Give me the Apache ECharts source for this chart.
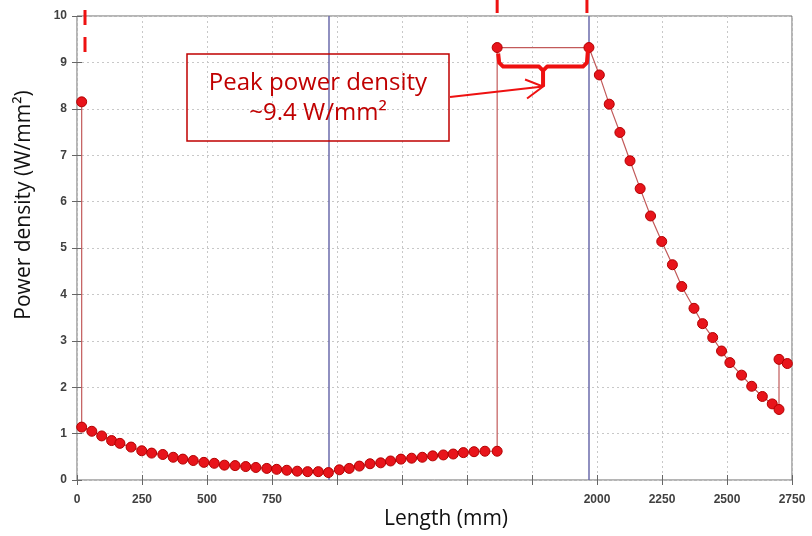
<!DOCTYPE html>
<html>
<head>
<meta charset="utf-8">
<script src="https://cdn.jsdelivr.net/npm/echarts@6/dist/echarts.min.js"></script>
<style>
  html, body { margin: 0; padding: 0; background: #fff; }
  #chart { width: 812px; height: 536px; }
</style>
</head>
<body>
<div id="chart"></div>
<script>
// values
const lengthMm = [18, 18, 57, 95, 133, 165, 208, 249, 287, 330, 370, 407, 447, 488, 528, 567, 608, 649, 688, 730,
  768, 807, 847, 887, 928, 967, 1009, 1047, 1086, 1127, 1168, 1206, 1246, 1287, 1328, 1368, 1409, 1447, 1486, 1527,
  1569, 1616, 1616, 1969, 2009, 2047, 2088, 2127, 2166, 2206, 2249, 2290, 2326, 2373, 2406, 2445, 2479, 2511, 2556, 2595,
  2636, 2674, 2700, 2700, 2732];
const powerDensity = [8.15, 1.14, 1.05, 0.95, 0.85, 0.79, 0.71, 0.63, 0.58, 0.55, 0.49, 0.45, 0.42, 0.38, 0.36, 0.32, 0.31, 0.29, 0.27, 0.25,
  0.23, 0.21, 0.19, 0.18, 0.18, 0.16, 0.22, 0.25, 0.30, 0.35, 0.37, 0.41, 0.45, 0.47, 0.49, 0.52, 0.54, 0.56, 0.59, 0.61,
  0.62, 0.62, 9.32, 9.32, 8.73, 8.10, 7.49, 6.88, 6.28, 5.69, 5.14, 4.64, 4.17, 3.70, 3.37, 3.07, 2.78, 2.53, 2.26, 2.02,
  1.80, 1.64, 1.52, 2.60, 2.51];
const guideLines = [969, 1969];
const xTickLabels = ["0", "250", "500", "750", "", "", "", "", "2000", "2250", "2500", "2750"];
const yTickLabels = ["0", "1", "2", "3", "4", "5", "6", "7", "8", "9", "10"];
const peakStart = 1616;
const peakEnd = 1969;
const peakValue = 9.32;

const chart = echarts.init(document.getElementById("chart"), null, { renderer: "canvas" });

const tickStyle = { show: true, inside: true, length: 5, lineStyle: { color: "#666" } };
const gridLine = { show: true, lineStyle: { color: "#c8c8c8", type: [2, 3], width: 1 } };
const labelStyle = { color: "#404040", fontFamily: "Liberation Sans", fontWeight: "bold", fontSize: 12 };

chart.setOption({
  animation: false,
  backgroundColor: "#fff",
  grid: { left: 77, right: 20, top: 16, bottom: 56, show: true, borderColor: "#6b6b6b", borderWidth: 1 },
  xAxis: [
    {
      type: "value", min: 0, max: 2750, interval: 250,
      axisLine: { show: false }, axisTick: tickStyle, splitLine: gridLine,
      axisLabel: { ...labelStyle, margin: 14, formatter: (v) => xTickLabels[Math.round(v / 250)] || "" },
    },
    {
      type: "value", position: "top", min: 0, max: 2750, interval: 250,
      axisLine: { show: false }, axisTick: tickStyle, splitLine: { show: false }, axisLabel: { show: false },
    },
  ],
  yAxis: [
    {
      type: "value", min: 0, max: 10, interval: 1,
      axisLine: { show: false }, axisTick: tickStyle, splitLine: gridLine,
      axisLabel: { ...labelStyle, margin: 10, formatter: (v) => yTickLabels[Math.round(v)] },
    },
    {
      type: "value", position: "right", min: 0, max: 10, interval: 1,
      axisLine: { show: false }, axisTick: tickStyle, splitLine: { show: false }, axisLabel: { show: false },
    },
  ],
  series: [
    {
      type: "line",
      data: lengthMm.map((x, i) => [x, powerDensity[i]]),
      symbol: "circle",
      symbolSize: 10,
      z: 5,
      itemStyle: { color: "#e8141b", borderColor: "#b30000", borderWidth: 1 },
      lineStyle: { color: "#c25a5a", width: 1.2 },
      markLine: {
        silent: true,
        symbol: "none",
        label: { show: false },
        lineStyle: { color: "#6b6bab", width: 1.5, type: "solid" },
        data: guideLines.map((x) => ({ xAxis: x })),
        z: 3,
      },
    },
  ],
});

// annotation overlay, anchored to the peak plateau
const [pxL, pxTop] = chart.convertToPixel({ gridIndex: 0 }, [peakStart, peakValue]);
const [pxR] = chart.convertToPixel({ gridIndex: 0 }, [peakEnd, peakValue]);
const braceY = pxTop + 19;
const midX = (pxL + pxR) / 2;
const tipY = braceY + 20;
const red = "#ee1111";
const dark = "#c00000";

chart.setOption({
  graphic: [
    {
      type: "text", z: 10, x: 24, y: 205, rotation: Math.PI / 2,
      style: {
        text: "Power density (W/mm²)", fill: "#111", font: '21px "Open Sans"',
        align: "center", verticalAlign: "middle",
      },
    },
    {
      type: "text", z: 10, x: 446, y: 519,
      style: {
        text: "Length (mm)", fill: "#111", font: '21px "Open Sans"',
        align: "center", verticalAlign: "middle",
      },
    },
    {
      type: "rect", z: 10,
      shape: { x: 187, y: 54, width: 262, height: 87 },
      style: { fill: "none", stroke: dark, lineWidth: 1.5 },
    },
    {
      type: "text", z: 10, x: 318, y: 83,
      style: { text: "Peak power density", fill: dark, font: '24px "Open Sans"', align: "center", verticalAlign: "middle" },
    },
    {
      type: "text", z: 10, x: 318, y: 113,
      style: { text: "~9.4 W/mm²", fill: dark, font: '24px "Open Sans"', align: "center", verticalAlign: "middle" },
    },
    {
      type: "polyline", z: 11,
      shape: {
        points: [[pxL + 1, pxTop + 6], [pxL + 2, braceY - 4], [pxL + 6, braceY], [midX - 4, braceY],
          [midX, braceY + 4], [midX, tipY]],
      },
      style: { fill: "none", stroke: red, lineWidth: 4, lineJoin: "round" },
    },
    {
      type: "polyline", z: 11,
      shape: {
        points: [[midX, braceY + 4], [midX + 4, braceY], [pxR - 6, braceY], [pxR - 2, braceY - 4], [pxR - 1, pxTop + 2]],
      },
      style: { fill: "none", stroke: red, lineWidth: 4, lineJoin: "round" },
    },
    {
      type: "line", z: 11,
      shape: { x1: 450, y1: 97, x2: midX, y2: tipY },
      style: { stroke: red, lineWidth: 2 },
    },
    {
      type: "polyline", z: 11,
      shape: { points: [[midX - 18, tipY - 7], [midX, tipY], [midX - 16, tipY + 12]] },
      style: { stroke: red, lineWidth: 2, fill: "none" },
    },
    {
      type: "line", z: 11,
      shape: { x1: pxL, y1: 0, x2: pxL, y2: 13 },
      style: { stroke: red, lineWidth: 3 },
    },
    {
      type: "line", z: 11,
      shape: { x1: pxR - 2, y1: 0, x2: pxR - 2, y2: 13 },
      style: { stroke: red, lineWidth: 3 },
    },
    {
      type: "line", z: 11,
      shape: { x1: 85, y1: 10, x2: 85, y2: 53 },
      style: { stroke: red, lineWidth: 3, lineDash: [15, 12] },
    },
  ],
});
</script>
</body>
</html>
